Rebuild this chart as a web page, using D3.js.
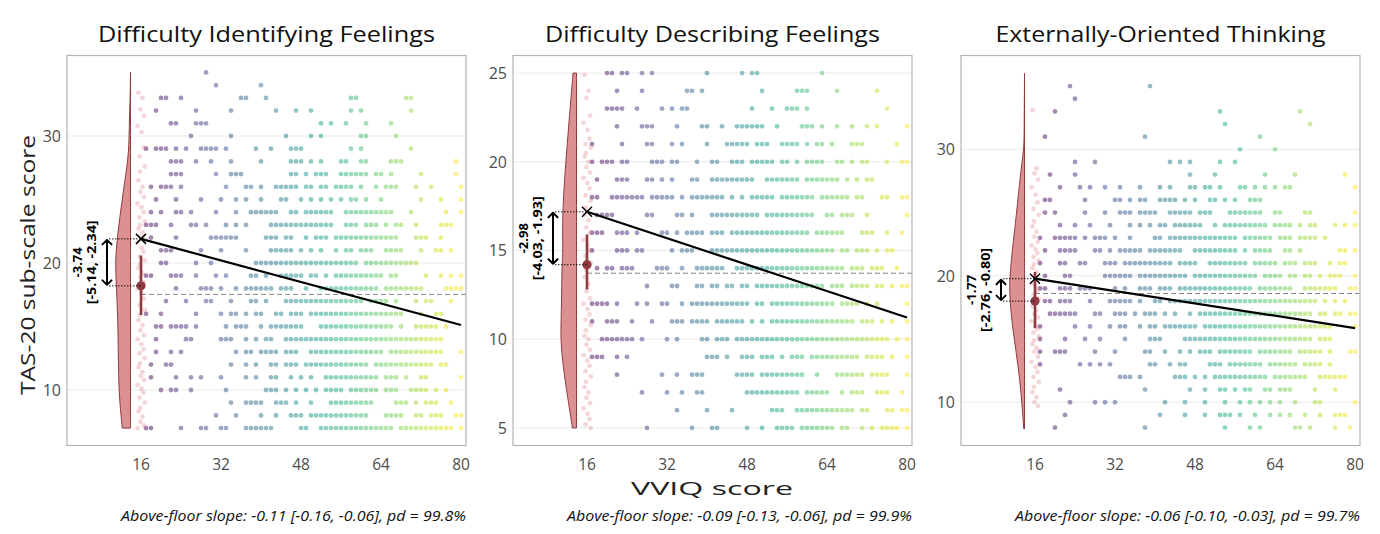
<!DOCTYPE html>
<html><head><meta charset="utf-8">
<script src="https://cdn.jsdelivr.net/npm/d3@7"></script>
<style>body{margin:0;background:#fff}svg{display:block}text{font-family:"Open Sans","Noto Sans",sans-serif}</style>
</head><body><svg id="c" width="1380" height="534"></svg>
<script>
// ---------------- DATA ----------------
const panelTitles = ["Difficulty Identifying Feelings","Difficulty Describing Feelings","Externally-Oriented Thinking"];
const xTicks = [16,32,48,64,80];
const yTicks = [[10,20,30],[5,10,15,20,25],[10,20,30]];
const slopeTexts = ["Above-floor slope: -0.11 [-0.16, -0.06], pd = 99.8%","Above-floor slope: -0.09 [-0.13, -0.06], pd = 99.9%","Above-floor slope: -0.06 [-0.10, -0.03], pd = 99.7%"];
const effectLabels = ["-3.74","-2.98","-1.77"];
const effectCIs = ["[-5.14, -2.34]","[-4.03, -1.93]","[-2.76, -0.80]"];
// regression line: value at x=16 and slope
const lineAt16 = [21.9, 17.18, 19.77];
const lineSlope = [-0.106, -0.093, -0.061];
// floor group mean and interval
const floorMean = [18.2, 14.2, 18.0];
const floorLo = [15.9, 12.8, 15.85];
const floorHi = [20.6, 15.9, 20.3];
// dashed reference level
const refLevel = [17.53, 13.72, 18.6];
// above-floor points: "y:x list" (ranges a-b)
const rowsDIF = [
"35:29","34:31,40","33:20,21,24,36,37,41,58,59,69,70","32:19,27,34,43,47,50,58,60,70",
"31:22,23,27-29,52,54,57,61,66","30:26,34,45,50,52,60,61,67",
"29:17,19-21,23,25,28-31,33,39,42,46-48,58,60,70",
"28:22-24,27,30,34,40,46-48,50,52,56,57,60,61,66-68,79",
"27:22-24,31,34-36,46,47,49,51-53,56-61,63,64,66,72,79",
"26:18,20-22,24,33,37,38,40,43-47,49,50,52,53,55-58,60,63,65-67,71,74,80",
"25:19,23,28,32,35,37,40,44,45,48,50,52,54,56,58,59,61,64,72,76,80",
"24:18,20,23,24,26,31,35,38-43,46,47,49-54,57-66,70,77,80",
"23:17-19,22,26,27,29,33,35,37,42-54,57-59,61-63,65,67,68,71,76-78",
"22:18,23,30-35,41-43,45,46,49,51-53,55-67,71-73,76",
"21:20-22,28,32,37,42-46,48,50,52,55,57,58,60-62,65-68,72,75,76,78",
"20:20,21,27,30,39-59,61-71",
"19:17,18,22-24,27,31,33,38,39,41,44-48,50,51,53,55-64,66,67,73,76,78,80",
"18:23,28-30,32,35,37-42,44-46,49,52-63,65-72,77-80",
"17:21,25,29,30,34,38,39,41,45-60,62-65,67,71,73,74,78",
"16:17,20,27,32,34,35,37,39,40,43,44,46-48,50-68,72,75,76",
"15:19,20,22-25,27,33,35-37,40,42-48,52-66,68,71-75,77",
"14:19,25,26,32-34,37,39,41,42,45-76",
"13:19,22,24,35,37,38,40-43,45-47,50-64,66-76,80",
"12:18,21,22,34,37,39,42,43,45-47,49-61,63-74,76,77",
"11:18,23,26,28,32,37,39,42,43,46,48,50,53-63,65-67,69,72,73,80",
"10:20,22,23,26,33,41-43,45,47,49,51,53-56,58-63,65-67,70-73,75,77",
"9:34,37-40,43-45,47,50,54-62,67-69,71,73-75,78",
"8:31,35,40,43,46-48,50-61,65-68,71,72,74-76,79,80",
"7:17,18,24,28,29,32,33,37-42,48,49,52-66,68-78,80"];
const rowsDDF = [
"25:20,21,23,24,27,29,40,47,49,50,63","24:22,27,36,37,39,51,58-60,66,74",
"23:20-23,26,31,33,35,36,49,53,56-58,60,76",
"22:22,27-29,34,39,40,43,46-51,54,59-61,63,66,69,72,74,80",
"21:17,23,28,29,33,35,40,44-48,50-52,55-58,60,62,63,65,69-71,78",
"20:17,19-21,23,24,29-31,33,34,38,41,42,45-47,49-53,55,56,58,60-63,66,67,69,71,72,76,79,80",
"19:18,22-24,28,29,31,33,37,38,41-49,52-58,60-66,68,70,72,73",
"18:17,18,21-27,29-33,35,37-43,45,47,49-53,55-61,63-68,70,71,75,76,79,80",
"17:18-21,28,29,34,35,37,41-50,52-61,64,65,67-69,72,80",
"16:17-19,22-24,26,31,32,34,36-39,41-43,45-60,62-67,71-73,76,79",
"15:17,22-24,26,27,33,35-37,41-65,67,68,70-72,74,76,77",
"14:18,20,21,23-25,30-32,35,38-43,46-67,69-71,73-75,78",
"13:28,33,34,38,39,41,42,44,45,47,48,50-63,65-67,69-72,74,75,77,79,80",
"12:17-20,22,26,28,31,32,35,37-48,50,51,53-65,67-70,72,74,80",
"11:17,20-22,25,29,33-35,37-40,42-47,49,51,53-69,71-73,75,77,80",
"10:19-25,27,32,34,39,40,42-44,46-76,78,80",
"9:17-19,22,24,40-42,44,47-49,51-53,55,57-59,61-70,72-75,77,80",
"8:22,31,34,37-39,46-49,51-59,62,66-71,73-76,80",
"7:27,32,35,38,39,48-58,60-64,67,69-71,74-76,79",
"6:34,40,45,53-55,58-69,71,72,76,77,79,80",
"5:28,37,41,42,48,51,54-57,59-65,67,68,71,73,75-78,80"];
const rowsEOT = [
"35:23,39","34:24","33:20,53,69","32:54,71","31:18,38,61","30:57,64",
"29:24,28,43,45,47,53,56","28:19,24,47,52,62,68,78",
"27:21,25,27,30,33,37,41,43,47,48,50,51,53,57,58,60,62,64,66,67,80",
"26:18,19,26,32,33,35,37,38,41-44,46,48,51,52,54,56,59-61",
"25:18,20,26,30,33-35,37-40,43-47,49-51,55-61,64,65,70,71,80",
"24:21,24,27,31,35,37,39,41,42,44-49,52,54-62,64-67,69,71,72,76,78,80",
"23:17,20-24,26,28-30,32,35,40,41,43-56,58-63,65-67,69-72,74",
"22:18,21-24,28,29,31,33-37,39-45,48-56,58,60-63,66,67,69,77,78,80",
"21:17,21,22,25,26,30-32,34-43,45-48,51-58,60-64,66-68,70-72,75,77,78",
"20:18,22,23,30-35,37-46,48-60,62-65,67,68,70,71,73,75-77,80",
"19:17,18,21-23,25-27,32,34,37-39,41-43,45-59,61-67,70-76,79,80",
"18:18,19,21-23,27,31-35,37,40,41,43-72,74,76,78",
"17:19-24,28,29,32-34,36,38-40,42,44,47,49-71,73,74,76,77,79,80",
"16:17,24,27,31,33,34,37,39,40,42-48,50-75,80",
"15:17,22,26,29,34,39-41,46-71,73-75",
"14:17,20-22,28,32,38,39,42,45,47,49-51,53-59,61-67,69-73,75,79,80",
"13:17,25,27,29,31,39,40,43,45,46,51-53,55-61,63-68,70-73,75",
"12:33-35,37,44-46,48,50,52-62,64-70,73-78",
"11:21,38,47,50,53,54,56,58,59,62,63,65-67,72,76",
"10:23,28,30,32,42,46,50,54,57,59,61,63,65,68,72,73,80",
"9:22,41,46,50,53-55,57,60,63,65,67,70,73,76-78",
"8:20,38,54,59,61,68,69,71,76,79"];
// floor group (VVIQ = 16) scores, as plotted
const floorDIF = [33.4,33.0,32.1,31.6,30.8,30.3,29.1,28.4,27.6,27.2,26.5,26.0,25.6,25.2,24.7,24.4,24.0,23.6,23.3,23.0,22.7,22.4,22.1,21.8,21.6,21.2,20.9,20.5,20.2,19.9,19.6,19.2,18.9,18.5,18.0,17.6,17.2,16.7,16.3,15.9,15.5,15.1,14.7,14.3,14.0,13.6,13.2,12.9,12.5,12.1,11.8,11.4,11.1,10.8,10.4,10.1,9.8,9.4,9.0,8.6,8.3,7.9,7.5,7.2,7.0];
const floorDDF = [24.9,24.0,23.6,22.6,22.2,21.8,21.3,21.0,20.8,20.5,20.3,20.0,19.7,19.4,19.1,18.8,18.5,18.1,17.8,17.4,17.0,16.7,16.3,16.0,15.6,15.3,15.0,14.7,14.3,13.9,13.5,13.1,12.7,12.3,12.0,11.7,11.4,11.1,10.8,10.5,10.2,10.0,9.7,9.4,9.1,8.8,8.5,8.2,7.9,7.6,7.3,7.0,6.7,6.4,6.1,5.8,5.5,5.2,5.0];
const floorEOT = [33.1,28.5,28.1,27.6,27.0,26.4,25.8,25.3,24.8,24.3,23.9,23.5,23.1,22.7,22.4,22.1,21.8,21.5,21.2,20.9,20.6,20.3,20.0,19.7,19.4,19.1,18.8,18.5,18.2,17.9,17.6,17.3,17.0,16.7,16.4,16.1,15.8,15.5,15.2,14.9,14.6,14.3,14.0,13.6,13.2,12.8,12.4,12.0,11.6,11.2,10.8,10.4,10.0,9.7];
// floor-group density (violin), score levels and relative density
const violinY_DIF = [35,33,31.5,30,28.7,27.5,26.3,25,23.7,22.3,21,20,18.4,17,15.7,14.4,13.1,11.8,10.5,9,7.9,7];
const violinD_DIF = [0,0.02,0.07,0.09,0.13,0.25,0.4,0.55,0.7,0.85,0.95,1.0,0.95,0.9,0.85,0.83,0.82,0.8,0.78,0.71,0.62,0.55];
const violinY_DDF = [25,23.5,22,20,18,16.1,15,14.1,12,10.5,9.6,8.1,6.2,5];
const violinD_DDF = [0.22,0.36,0.5,0.68,0.84,0.9,0.86,0.93,0.95,1.0,0.98,0.8,0.47,0.26];
const violinY_EOT = [36,31.3,30,28.1,24.9,22,19.9,18.9,16.8,14.9,12.8,10.7,7.9];
const violinD_EOT = [0,0.02,0.04,0.27,0.53,0.82,0.98,1.0,0.89,0.67,0.42,0.22,0.05];

// ---------------- LAYOUT ----------------
const panelLeft = [67, 513, 961], panelW = 399, panelTop = 55.5, panelH = 390;
const xDom = [1.2, 81.0];
const yDoms = [[5.63, 36.34],[4.01, 25.99],[6.58, 37.42]];
const rowsAll = [rowsDIF, rowsDDF, rowsEOT];
const floorAll = [floorDIF, floorDDF, floorEOT];
const violinAll = [[violinY_DIF,violinD_DIF],[violinY_DDF,violinD_DDF],[violinY_EOT,violinD_EOT]];
const violinMaxW = [15, 15.7, 15];
const jit = [-0.5,0.3,-0.1,0.6,-0.7,0.1,0.5,-0.3,0.75,-0.2];

function parseRows(rows){
  const pts=[];
  rows.forEach(r=>{
    const [ys, xs] = r.split(":"); const y=+ys;
    xs.split(",").forEach(tok=>{
      if(tok.includes("-")){const [a,b]=tok.split("-").map(Number); for(let x=a;x<=b;x++) pts.push({x,y});}
      else pts.push({x:+tok,y});
    });
  });
  return pts;
}

const svg = d3.select("#c");
const color = d3.scaleSequential(d3.interpolateViridis).domain([16,80]);
const floorColor = "#e07f86", darkRed = "#8e3a40";

for(let p=0;p<3;p++){
  const x = d3.scaleLinear().domain(xDom).range([panelLeft[p], panelLeft[p]+panelW]);
  const y = d3.scaleLinear().domain(yDoms[p]).range([panelTop+panelH, panelTop]);
  const g = svg.append("g");
  const clipId = "clip"+p;
  svg.append("clipPath").attr("id",clipId).append("rect")
    .attr("x",panelLeft[p]).attr("y",panelTop).attr("width",panelW).attr("height",panelH);
  // gridlines
  g.selectAll(".grid").data(yTicks[p]).join("line")
    .attr("x1",panelLeft[p]).attr("x2",panelLeft[p]+panelW)
    .attr("y1",d=>y(d)).attr("y2",d=>y(d)).attr("stroke","#ebebeb").attr("stroke-width",1);
  const pg = g.append("g").attr("clip-path",`url(#${clipId})`);
  // violin
  const vy = violinAll[p][0], vd = violinAll[p][1];
  const vdata = vy.map((v,i)=>({y:v,d:vd[i]}));
  const wScale = d3.scaleLinear().domain([0,1]).range([0, violinMaxW[p]]);
  const edge = x(13.9);
  const area = d3.area().y(d=>y(d.y)).x0(d=>edge - wScale(d.d)).x1(edge).curve(d3.curveBasis);
  pg.append("path").datum(vdata).attr("d",area)
    .attr("fill","#d98a8c").attr("fill-opacity",0.95).attr("stroke","#8e3a40").attr("stroke-width",1);
  // above-floor points
  const pts = parseRows(rowsAll[p]);
  pg.selectAll(".pt").data(pts).join("circle")
    .attr("cx",d=>x(d.x)).attr("cy",d=>y(d.y)).attr("r",2.4)
    .attr("fill",d=>color(d.x)).attr("fill-opacity",0.5);
  // floor points
  pg.selectAll(".fp").data(floorAll[p]).join("circle")
    .attr("cx",(d,i)=>x(16 + jit[i%jit.length])).attr("cy",d=>y(d)).attr("r",2.4)
    .attr("fill",floorColor).attr("fill-opacity",0.32);
  // dashed reference
  pg.append("line").attr("x1",x(16)).attr("x2",x(81))
    .attr("y1",y(refLevel[p])).attr("y2",y(refLevel[p]))
    .attr("stroke","#888").attr("stroke-width",1).attr("stroke-dasharray","5,3");
  // regression line
  pg.append("line").attr("x1",x(16)).attr("x2",x(80))
    .attr("y1",y(lineAt16[p])).attr("y2",y(lineAt16[p]+lineSlope[p]*64))
    .attr("stroke","#000").attr("stroke-width",2.2);
  // floor mean and interval
  pg.append("line").attr("x1",x(16)).attr("x2",x(16)).attr("y1",y(floorLo[p])).attr("y2",y(floorHi[p]))
    .attr("stroke",darkRed).attr("stroke-width",2.6);
  pg.append("circle").attr("cx",x(16)).attr("cy",y(floorMean[p])).attr("r",4.6).attr("fill",darkRed);
  // X marker
  const cx = x(16), cy = y(lineAt16[p]), s=5;
  pg.append("path").attr("d",`M${cx-s},${cy-s}L${cx+s},${cy+s}M${cx-s},${cy+s}L${cx+s},${cy-s}`)
    .attr("stroke","#000").attr("stroke-width",1.5).attr("fill","none");
  // dotted connectors
  const ax = x(9.2);
  [lineAt16[p], floorMean[p]].forEach(v=>{
    pg.append("line").attr("x1",ax+2).attr("x2",x(16)).attr("y1",y(v)).attr("y2",y(v))
      .attr("stroke","#000").attr("stroke-width",0.9).attr("stroke-dasharray","1.5,1.5");
  });
  // double arrow
  const y1 = y(lineAt16[p]), y2 = y(floorMean[p]), h=4.5;
  pg.append("path").attr("d",`M${ax},${y1+1}L${ax},${y2-1}M${ax-h},${y1+h+1}L${ax},${y1+1}L${ax+h},${y1+h+1}M${ax-h},${y2-h-1}L${ax},${y2-1}L${ax+h},${y2-h-1}`)
    .attr("stroke","#000").attr("stroke-width",2).attr("fill","none").attr("stroke-linecap","round").attr("stroke-linejoin","round");
  // effect labels
  const my = (y1+y2)/2;
  g.append("text").attr("transform",`translate(${x(3.2)},${my}) rotate(-90)`)
    .attr("text-anchor","middle").attr("dominant-baseline","central")
    .attr("font-size",13).attr("font-weight","bold").attr("fill","#000").text(effectLabels[p]);
  g.append("text").attr("transform",`translate(${x(6.0)},${my}) rotate(-90)`)
    .attr("text-anchor","middle").attr("dominant-baseline","central")
    .attr("font-size",13).attr("font-weight","bold").attr("fill","#000")
    .attr("textLength",84).attr("lengthAdjust","spacingAndGlyphs").text(effectCIs[p]);
  // frame
  g.append("rect").attr("x",panelLeft[p]).attr("y",panelTop).attr("width",panelW).attr("height",panelH)
    .attr("fill","none").attr("stroke","#b3b3b3").attr("stroke-width",1.2);
  // axes tick labels
  g.selectAll(".xt").data(xTicks).join("text")
    .attr("x",d=>x(d)).attr("y",470).attr("text-anchor","middle")
    .attr("font-size",15.5).attr("fill","#4d4d4d").text(d=>d);
  g.selectAll(".yt").data(yTicks[p]).join("text")
    .attr("x",panelLeft[p]-6).attr("y",d=>y(d)).attr("dy","0.36em").attr("text-anchor","end")
    .attr("font-size",16).attr("fill","#4d4d4d").text(d=>d);
  // title
  g.append("text").attr("x",panelLeft[p]+panelW/2).attr("y",42).attr("text-anchor","middle")
    .attr("font-size",22).attr("fill","#111")
    .attr("textLength",[337,335,330][p]).attr("lengthAdjust","spacingAndGlyphs").text(panelTitles[p]);
  // slope text
  g.append("text").attr("x",panelLeft[p]+panelW).attr("y",521).attr("text-anchor","end")
    .attr("font-size",14.5).attr("font-style","italic").attr("fill","#111")
    .attr("textLength",345).attr("lengthAdjust","spacingAndGlyphs").text(slopeTexts[p]);
}
// axis titles
svg.append("text").attr("transform","translate(35,265) rotate(-90)").attr("text-anchor","middle")
  .attr("font-size",20).attr("fill","#222").attr("textLength",260).attr("lengthAdjust","spacingAndGlyphs")
  .text("TAS-20 sub-scale score");
svg.append("text").attr("x",712).attr("y",494.5).attr("text-anchor","middle")
  .attr("font-size",18).attr("fill","#222").attr("textLength",162).attr("lengthAdjust","spacingAndGlyphs")
  .text("VVIQ score");
</script></body></html>
